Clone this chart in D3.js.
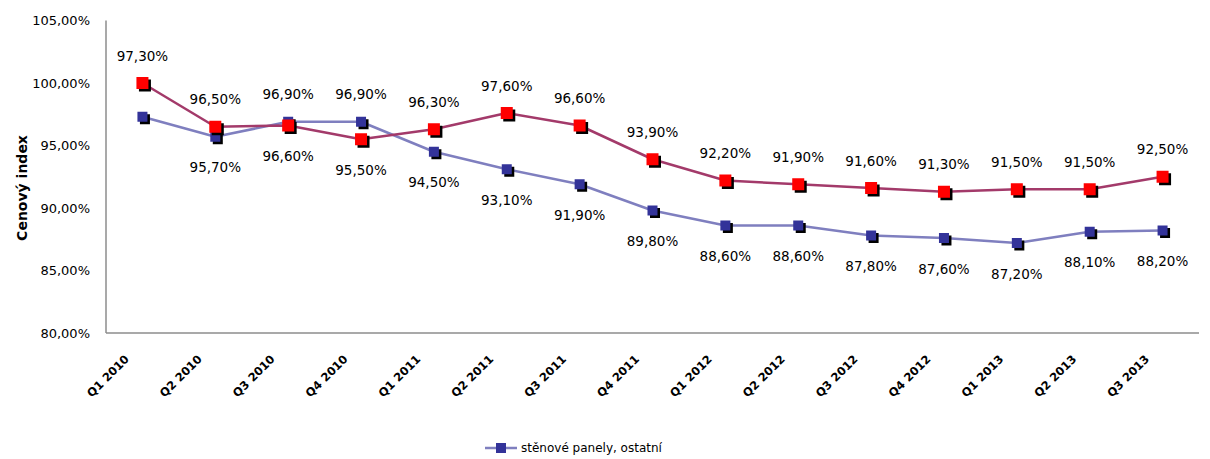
<!DOCTYPE html>
<html><head><meta charset="utf-8">
<script src="https://cdn.jsdelivr.net/npm/d3@7"></script>
<style>body{margin:0;background:#fff}svg{display:block}</style>
</head><body><svg id="c" width="1210" height="459"></svg>
<script>
const categories = ["Q1 2010","Q2 2010","Q3 2010","Q4 2010","Q1 2011","Q2 2011","Q3 2011","Q4 2011","Q1 2012","Q2 2012","Q3 2012","Q4 2012","Q1 2013","Q2 2013","Q3 2013"];
const redValues  = [100.0,96.5,96.6,95.5,96.3,97.6,96.6,93.9,92.2,91.9,91.6,91.3,91.5,91.5,92.5];
const blueValues = [97.3,95.7,96.9,96.9,94.5,93.1,91.9,89.8,88.6,88.6,87.8,87.6,87.2,88.1,88.2];
const topLabels    = [97.3,96.5,96.9,96.9,96.3,97.6,96.6,93.9,92.2,91.9,91.6,91.3,91.5,91.5,92.5];
const bottomLabels = [null,95.7,96.6,95.5,94.5,93.1,91.9,89.8,88.6,88.6,87.8,87.6,87.2,88.1,88.2];
const yTicks = [80,85,90,95,100,105];
const legendLabel = "stěnové panely, ostatní";
const yTitle = "Cenový index";

const fmt = v => v.toFixed(2).replace('.', ',') + '%';
const svg = d3.select('#c');
const L = 106, R = 1199, T = 20.5, B = 333;
const x = d3.scalePoint().domain(categories).range([L, R]).padding(0.5);
const y = d3.scaleLinear().domain([80,105]).range([B, T]);
const font = "'DejaVu Sans', sans-serif";

// y axis labels
const yAxis = d3.axisLeft(y).tickValues(yTicks).tickFormat(d => d.toFixed(2).replace('.', ',') + '%').tickSize(0).tickPadding(16);
const gy = svg.append('g').attr('transform', `translate(${L},0)`).call(yAxis);
gy.select('.domain').remove();
gy.selectAll('text').attr('font-family', font).attr('font-size', 13).attr('fill', '#000');

// axis lines
svg.append('line').attr('x1', L).attr('x2', L).attr('y1', T).attr('y2', B).attr('stroke', '#8c8c8c').attr('stroke-width', 1.5);
svg.append('line').attr('x1', L).attr('x2', R).attr('y1', B).attr('y2', B).attr('stroke', '#8c8c8c').attr('stroke-width', 1.5);

// x labels
const gx = svg.append('g').attr('transform', `translate(0,${B})`).call(d3.axisBottom(x).tickSize(0));
gx.select('.domain').remove();
gx.selectAll('text')
  .attr('font-family', font).attr('font-size', 11.5).attr('font-weight', 'bold').attr('fill', '#000')
  .attr('text-anchor', 'end').attr('y', 0).attr('dy', '0.35em')
  .attr('transform', 'translate(-16,24) rotate(-45)');

// y title
svg.append('text').attr('transform', 'translate(22,188) rotate(-90)')
  .attr('text-anchor', 'middle').attr('dy', '0.35em')
  .attr('font-family', font).attr('font-size', 14).attr('font-weight', 'bold').text(yTitle);

const line = d3.line().x((d, i) => x(categories[i])).y(d => y(d));

function series(vals, lineColor, markColor, size) {
  svg.append('path').datum(vals).attr('d', line).attr('fill', 'none')
    .attr('stroke', lineColor).attr('stroke-width', 2.5).attr('stroke-linejoin', 'round');
  const g = svg.append('g');
  g.selectAll('rect.s').data(vals).join('rect')
    .attr('x', (d, i) => x(categories[i]) - size / 2 + 2.5).attr('y', d => y(d) - size / 2 + 2.5)
    .attr('width', size).attr('height', size).attr('fill', '#000');
  g.selectAll('rect.m').data(vals).join('rect')
    .attr('x', (d, i) => x(categories[i]) - size / 2).attr('y', d => y(d) - size / 2)
    .attr('width', size).attr('height', size).attr('fill', markColor);
}
series(blueValues, '#7f7fbf', '#333399', 10);
series(redValues, '#a33a6a', '#ff0000', 12);

// data labels
const gl = svg.append('g').attr('font-family', font).attr('font-size', 13.5).attr('fill', '#000').attr('text-anchor', 'middle');
topLabels.forEach((v, i) => {
  if (v == null) return;
  const top = Math.max(redValues[i], blueValues[i]);
  gl.append('text').attr('x', x(categories[i])).attr('y', y(top) - 27).attr('dy', '0.35em').text(fmt(v));
});
bottomLabels.forEach((v, i) => {
  if (v == null) return;
  const bot = Math.min(redValues[i], blueValues[i]);
  gl.append('text').attr('x', x(categories[i])).attr('y', y(bot) + 31).attr('dy', '0.35em').text(fmt(v));
});

// legend
const lg = svg.append('g').attr('transform', 'translate(485,448)');
lg.append('line').attr('x1', 0).attr('x2', 32).attr('y1', 0).attr('y2', 0).attr('stroke', '#7f7fbf').attr('stroke-width', 2.5);
lg.append('rect').attr('x', 11).attr('y', -5).attr('width', 10).attr('height', 10).attr('fill', '#333399');
lg.append('text').attr('x', 36).attr('dy', '0.35em').attr('font-family', font).attr('font-size', 12).text(legendLabel);
</script></body></html>
